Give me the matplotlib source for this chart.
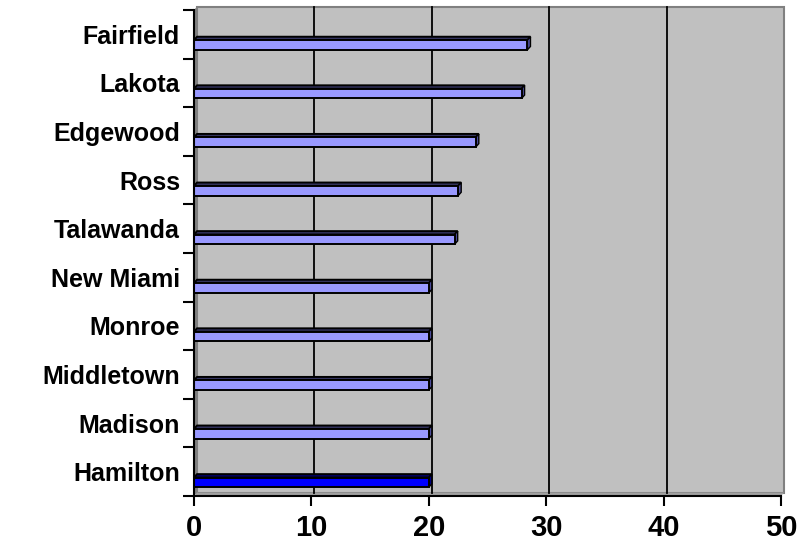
import matplotlib.pyplot as plt
from matplotlib.patches import Polygon, Rectangle

plt.rcParams['font.family'] = ['Liberation Sans', 'DejaVu Sans']

# districts from bottom to top
districts = ["Hamilton", "Madison", "Middletown", "Monroe", "New Miami",
             "Talawanda", "Ross", "Edgewood", "Lakota", "Fairfield"]
values = [20.0, 20.0, 20.0, 20.0, 20.0, 22.2, 22.5, 24.0, 27.9, 28.4]
highlight = "Hamilton"

xmax = 50
xticks = [0, 10, 20, 30, 40, 50]

fig = plt.figure(figsize=(8.11, 5.46), dpi=100)
ax = fig.add_axes([194 / 811, 50 / 546, 587 / 811, 486 / 546])

# depth offset of the 3d look, in data units
dx = 0.26
dy = 0.07
ybot, ytop = -0.5, len(districts) - 0.5

# back wall, side wall and floor
ax.add_patch(Rectangle((dx, ybot + dy), xmax, ytop - ybot, facecolor="#C0C0C0",
                       edgecolor="#808080", lw=1.5, zorder=0, clip_on=False))
ax.add_patch(Polygon([(0, ybot), (dx, ybot + dy), (dx, ytop + dy), (0, ytop)],
                     closed=True, facecolor="#808080", edgecolor="none",
                     zorder=0.5, clip_on=False))
ax.add_patch(Polygon([(0, ybot), (xmax, ybot), (xmax + dx, ybot + dy), (dx, ybot + dy)],
                     closed=True, facecolor="#A0A0A0", edgecolor="none",
                     zorder=0.5, clip_on=False))
for g in xticks[1:-1]:
    ax.plot([g + dx, g + dx], [ybot + dy, ytop + dy], color="black", lw=1.3,
            zorder=1, clip_on=False)

# bars with top and end faces
h = 0.2
off = -0.22
for i, (name, v) in enumerate(zip(districts, values)):
    front = "#0000FF" if name == highlight else "#9999FF"
    side = "#00007F" if name == highlight else "#4C4C99"
    top = "#000066" if name == highlight else "#33335F"
    y0 = i + off - h / 2
    y1 = i + off + h / 2
    ax.barh(i + off, v, height=h, color=front, edgecolor="black", lw=1.4, zorder=3)
    ax.add_patch(Polygon([(0, y1), (v, y1), (v + dx, y1 + dy), (dx, y1 + dy)],
                         closed=True, facecolor=top, edgecolor="black", lw=1.4, zorder=2))
    ax.add_patch(Polygon([(v, y0), (v, y1), (v + dx, y1 + dy), (v + dx, y0 + dy)],
                         closed=True, facecolor=side, edgecolor="black", lw=1.0, zorder=2))

ax.set_facecolor("white")
for s in ["top", "right"]:
    ax.spines[s].set_visible(False)
for s in ["left", "bottom"]:
    ax.spines[s].set_linewidth(1.5)
    ax.spines[s].set_zorder(4)

ax.set_xticks(xticks)
ax.set_xticklabels([str(t) for t in xticks], fontsize=21, fontweight="bold")
ax.tick_params(axis="x", length=7, width=1.5, pad=6)

# category borders as major ticks, names on minor ticks
ax.set_yticks([i - 0.5 for i in range(len(districts) + 1)])
ax.set_yticklabels([])
ax.set_yticks(range(len(districts)), minor=True)
ax.set_yticklabels(districts, minor=True, fontsize=18, fontweight="bold")
ax.tick_params(axis="y", which="major", length=8, width=1.5)
ax.tick_params(axis="y", which="minor", length=0, pad=10)

ax.set_xlim(0, xmax)
ax.set_ylim(ybot, ytop)

fig.savefig("out.png", dpi=100)
